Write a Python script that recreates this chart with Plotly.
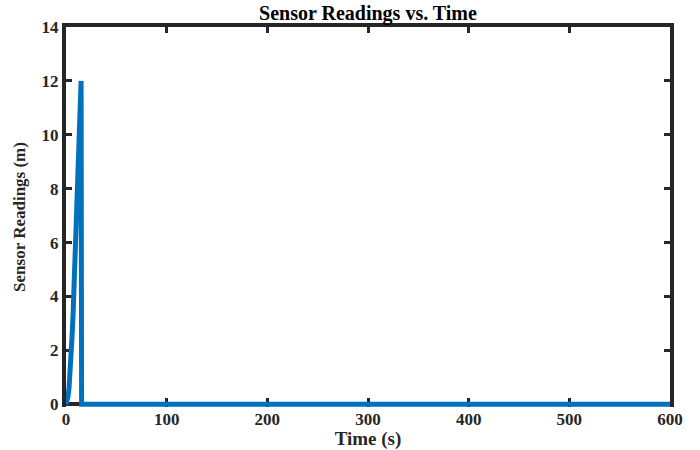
import plotly.graph_objects as go

# Sensor trace: a ramp over the first ~15 s, then the reading falls back to zero
time_s = [0, 1, 2, 3, 4, 5, 6, 7, 8, 9, 10, 11, 12, 13, 14, 15, 15.5, 600]
reading_m = [0, 0.1, 0.3, 0.6, 1.1, 1.7, 2.5, 3.3, 4.3, 5.3, 6.4, 7.5, 8.6, 9.7, 10.9, 12.0, 0, 0]

x_ticks = [0, 100, 200, 300, 400, 500, 600]
y_ticks = [0, 2, 4, 6, 8, 10, 12, 14]

FONT = "Liberation Serif"
AXIS_COLOR = "#262626"
LINE_BLUE = "#0072BD"

fig = go.Figure()
fig.add_trace(go.Scatter(
    x=time_s, y=reading_m, mode="lines",
    line=dict(color=LINE_BLUE, width=5),
    hoverinfo="skip", showlegend=False,
))
# empty trace so the top (mirror) axis gets drawn
fig.add_trace(go.Scatter(x=[], y=[], xaxis="x2", yaxis="y",
                         hoverinfo="skip", showlegend=False))

tick_font = dict(family=FONT, size=17, color=AXIS_COLOR)
bold = lambda vals: [f"<b>{v}</b>" for v in vals]

fig.update_layout(
    width=700, height=450,
    margin=dict(l=66, r=30, t=27, b=43),
    paper_bgcolor="white", plot_bgcolor="white",
    font=dict(family=FONT, color=AXIS_COLOR),
    title=dict(text="<b>Sensor Readings vs. Time</b>", x=0.5, xref="paper",
               xanchor="center", y=0.972, yanchor="middle",
               font=dict(family=FONT, size=20, color="black")),
    # bottom axis: the y=0 baseline is the y-axis zero line, so the trace sits on top of it
    xaxis=dict(range=[0, 600], tickvals=x_ticks, ticktext=bold(x_ticks),
               showline=False, showgrid=False, zeroline=False, automargin=False,
               ticks="inside", ticklen=9, tickwidth=3, tickcolor=AXIS_COLOR,
               tickfont=tick_font, layer="below traces",
               title=dict(text="<b>Time (s)</b>", standoff=6,
                          font=dict(family=FONT, size=19, color=AXIS_COLOR))),
    # top edge of the box with inward ticks
    xaxis2=dict(range=[0, 600], tickvals=x_ticks, overlaying="x", side="top",
                anchor="y", showline=True, linewidth=4, linecolor=AXIS_COLOR,
                ticks="inside", ticklen=6, tickwidth=3, tickcolor=AXIS_COLOR,
                showticklabels=False, showgrid=False, zeroline=False,
                automargin=False),
    yaxis=dict(range=[-0.1, 14], tickvals=y_ticks, ticktext=bold(y_ticks),
               showline=True, linewidth=4, linecolor=AXIS_COLOR, mirror="ticks",
               ticks="inside", ticklen=6, tickwidth=3, tickcolor=AXIS_COLOR,
               showgrid=False, zeroline=True, zerolinewidth=4, automargin=False,
               zerolinecolor=AXIS_COLOR, tickfont=tick_font, layer="below traces",
               title=dict(text="<b>Sensor Readings (m)</b>", standoff=13,
                          font=dict(family=FONT, size=17, color=AXIS_COLOR))),
)

fig.write_html("out.html")
